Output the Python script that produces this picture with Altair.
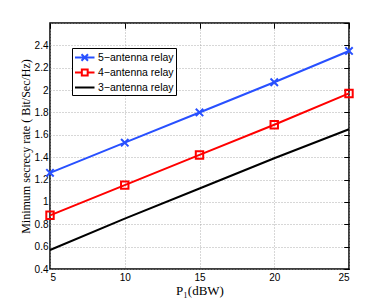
import altair as alt
import pandas as pd

power = [5, 10, 15, 20, 25]
series_names = ["5\u2212antenna relay", "4\u2212antenna relay", "3\u2212antenna relay"]
rate_5 = [1.26, 1.53, 1.80, 2.07, 2.35]
rate_4 = [0.88, 1.15, 1.42, 1.69, 1.97]
rate_3 = [0.57, 0.85, 1.12, 1.39, 1.65]
colors = ["#2850ff", "#ff0000", "#000000"]
x_ticks = [5, 10, 15, 20, 25]
y_ticks = [0.4, 0.6, 0.8, 1.0, 1.2, 1.4, 1.6, 1.8, 2.0, 2.2, 2.4, 2.6]

rows = []
for name, vals in zip(series_names, [rate_5, rate_4, rate_3]):
    for p, v in zip(power, vals):
        rows.append({"P": p, "rate": v, "series": name})
df = pd.DataFrame(rows)

xs = alt.Scale(domain=[5, 25], nice=False, zero=False)
ys = alt.Scale(domain=[0.4, 2.6], nice=False, zero=False)
cs = alt.Scale(domain=series_names, range=colors)

X_PATH = "M-1,-1L1,1M-1,1L1,-1"
# legend glyphs: a line segment (x from -1 to 2) with the marker at its middle (x=0.5)
LEG_X = "M-1,0L2,0M0,-0.5L1,0.5M0,0.5L1,-0.5"
LEG_SQ = "M-1,0L0.05,0M0.95,0L2,0M0.05,-0.45L0.95,-0.45L0.95,0.45L0.05,0.45Z"
LEG_LINE = "M-1,0L2,0"

legend = alt.Legend(
    title=None, orient="none", legendX=22, legendY=25,
    fillColor="white", strokeColor="black", padding=2,
    labelFont="Liberation Sans", labelFontSize=10.5, labelColor="black",
    symbolSize=169, symbolStrokeWidth=2, symbolFillColor="transparent",
    symbolOpacity=1, rowPadding=0, labelOffset=9, cornerRadius=0,
)

base = alt.Chart(df)

lines = base.mark_line(strokeWidth=2).encode(
    x=alt.X("P:Q", scale=xs,
            axis=alt.Axis(values=x_ticks, title="P\u2081(dBW)", titleFont="Liberation Serif",
                          titleFontSize=13, titleFontWeight="normal", titleColor="black",
                          labelFont="Liberation Sans", labelFontSize=10, labelColor="black",
                          labelPadding=3, ticks=False, domain=False, titlePadding=2,
                          grid=True, gridDash=[1, 2], gridColor="#999999", gridWidth=0.8)),
    y=alt.Y("rate:Q", scale=ys,
            axis=alt.Axis(values=y_ticks, title="Minimum secrecy rate ( Bit/Sec/Hz)",
                          titleFont="Liberation Serif", titleFontSize=12,
                          titleFontWeight="normal", titleColor="black",
                          labelFont="Liberation Sans", labelFontSize=10, labelColor="black",
                          labelExpr="datum.value > 2.5 ? '' : format(datum.value, '.1~f')",
                          labelPadding=2, ticks=False, domain=False, titlePadding=2,
                          grid=True, gridDash=[1, 2], gridColor="#999999", gridWidth=0.8)),
    color=alt.Color("series:N", scale=cs, legend=None),
)

pts_df = df[df["series"] != series_names[2]]
points = alt.Chart(pts_df).mark_point(filled=False, strokeWidth=2, size=55, opacity=1).encode(
    x=alt.X("P:Q", scale=xs,
            axis=alt.Axis(values=x_ticks, title=None, labels=False, domain=False, grid=False,
                          ticks=True, tickSize=5, offset=-5, tickColor="black")),
    y=alt.Y("rate:Q", scale=ys,
            axis=alt.Axis(values=y_ticks, title=None, labels=False, domain=False, grid=False,
                          ticks=True, tickSize=5, offset=-5, tickColor="black")),
    color=alt.Color("series:N", scale=cs, legend=None),
    shape=alt.Shape("series:N", scale=alt.Scale(domain=series_names[:2], range=[X_PATH, "square"]),
                    legend=None),
)

legend_layer = base.mark_point(opacity=0, filled=False).encode(
    x=alt.X("P:Q", scale=xs,
            axis=alt.Axis(orient="top", values=x_ticks, title=None, labels=False, domain=False,
                          grid=False, ticks=True, tickSize=5, offset=-5, tickColor="black")),
    y=alt.Y("rate:Q", scale=ys,
            axis=alt.Axis(orient="right", values=y_ticks, title=None, labels=False, domain=False,
                          grid=False, ticks=True, tickSize=5, offset=-5, tickColor="black")),
    color=alt.Color("series:N", scale=cs, legend=legend),
    shape=alt.Shape("series:N", scale=alt.Scale(domain=series_names,
                                                range=[LEG_X, LEG_SQ, LEG_LINE]),
                    legend=legend),
)

chart = alt.layer(lines, points, legend_layer).resolve_axis(
    x="independent", y="independent"
).resolve_scale(shape="independent", color="independent").properties(
    width=299, height=246,
    autosize=alt.AutoSizeParams(type="none"),
    padding={"left": 42, "top": 15, "right": 20, "bottom": 30},
    background="white",
).configure_view(stroke="black", strokeWidth=1.5)

chart.save("out.html", embed_options={"renderer": "svg", "actions": False})
